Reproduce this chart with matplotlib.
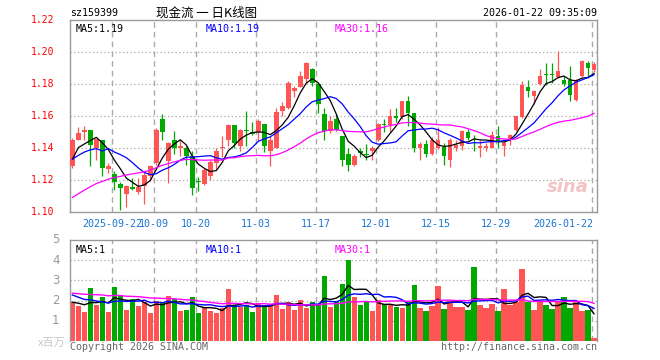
import numpy as np
import matplotlib
matplotlib.use("Agg")
import matplotlib.pyplot as plt

# daily K-line data (2025-09-11 .. 2026-01-22)
opens = [1.1285, 1.1452, 1.1498, 1.1515, 1.1398, 1.1452, 1.1269, 1.1235, 1.1177, 1.1115,
         1.1156, 1.1127, 1.1160, 1.1227, 1.1306, 1.1581, 1.1317, 1.1448, 1.1398, 1.1402,
         1.1348, 1.1196, 1.1177, 1.1227, 1.1306, 1.1398, 1.1450, 1.1546, 1.1415, 1.1515,
         1.1502, 1.1498, 1.1552, 1.1379, 1.1400, 1.1629, 1.1650, 1.1754, 1.1781, 1.1831,
         1.1894, 1.1802, 1.1615, 1.1504, 1.1581, 1.1477, 1.1365, 1.1296, 1.1379, 1.1360,
         1.1379, 1.1448, 1.1552, 1.1546, 1.1602, 1.1592, 1.1696, 1.1617, 1.1398, 1.1427,
         1.1365, 1.1398, 1.1406, 1.1327, 1.1400, 1.1410, 1.1502, 1.1452, 1.1398, 1.1398,
         1.1400, 1.1477, 1.1415, 1.1448, 1.1515, 1.1594, 1.1781, 1.1723, 1.1802, 1.1863,
         1.1865, 1.1844, 1.1827, 1.1827, 1.1702, 1.1848, 1.1931, 1.1885]
highs = [1.1463, 1.1531, 1.1535, 1.1515, 1.1456, 1.1452, 1.1306, 1.1254, 1.1185, 1.1171,
         1.1213, 1.1213, 1.1254, 1.1296, 1.1523, 1.1615, 1.1435, 1.1504, 1.1448, 1.1410,
         1.1379, 1.1217, 1.1275, 1.1327, 1.1400, 1.1477, 1.1552, 1.1546, 1.1519, 1.1629,
         1.1565, 1.1581, 1.1552, 1.1477, 1.1650, 1.1685, 1.1817, 1.1785, 1.1879, 1.1935,
         1.1898, 1.1806, 1.1650, 1.1598, 1.1615, 1.1477, 1.1400, 1.1365, 1.1400, 1.1427,
         1.1410, 1.1556, 1.1581, 1.1644, 1.1650, 1.1696, 1.1727, 1.1617, 1.1435, 1.1452,
         1.1469, 1.1531, 1.1431, 1.1463, 1.1448, 1.1510, 1.1519, 1.1483, 1.1452, 1.1431,
         1.1504, 1.1535, 1.1442, 1.1490, 1.1602, 1.1817, 1.1827, 1.1765, 1.1894, 1.1931,
         1.1931, 1.2004, 1.1852, 1.1915, 1.1831, 1.1948, 1.1942, 1.1935]
lows = [1.1275, 1.1448, 1.1448, 1.1290, 1.1327, 1.1227, 1.1242, 1.1138, 1.1010, 1.1031,
        1.1138, 1.1113, 1.1052, 1.1192, 1.1296, 1.1448, 1.1181, 1.1363, 1.1352, 1.1296,
        1.1108, 1.1129, 1.1171, 1.1202, 1.1269, 1.1342, 1.1410, 1.1400, 1.1379, 1.1410,
        1.1480, 1.1442, 1.1373, 1.1290, 1.1400, 1.1598, 1.1644, 1.1717, 1.1781, 1.1806,
        1.1790, 1.1619, 1.1448, 1.1496, 1.1508, 1.1290, 1.1254, 1.1290, 1.1342, 1.1327,
        1.1325, 1.1442, 1.1498, 1.1498, 1.1560, 1.1581, 1.1540, 1.1373, 1.1325, 1.1342,
        1.1358, 1.1394, 1.1296, 1.1281, 1.1379, 1.1390, 1.1448, 1.1379, 1.1342, 1.1383,
        1.1400, 1.1400, 1.1348, 1.1421, 1.1504, 1.1588, 1.1719, 1.1677, 1.1796, 1.1796,
        1.1806, 1.1838, 1.1785, 1.1692, 1.1692, 1.1844, 1.1838, 1.1873]
closes = [1.1448, 1.1494, 1.1515, 1.1419, 1.1456, 1.1277, 1.1285, 1.1185, 1.1148, 1.1165,
          1.1146, 1.1156, 1.1233, 1.1285, 1.1515, 1.1498, 1.1431, 1.1398, 1.1415, 1.1352,
          1.1148, 1.1185, 1.1265, 1.1315, 1.1381, 1.1406, 1.1546, 1.1431, 1.1515, 1.1504,
          1.1485, 1.1567, 1.1415, 1.1448, 1.1627, 1.1665, 1.1806, 1.1775, 1.1848, 1.1931,
          1.1806, 1.1677, 1.1504, 1.1567, 1.1515, 1.1327, 1.1296, 1.1352, 1.1369, 1.1356,
          1.1400, 1.1552, 1.1546, 1.1602, 1.1588, 1.1692, 1.1617, 1.1398, 1.1427, 1.1365,
          1.1452, 1.1452, 1.1352, 1.1448, 1.1421, 1.1504, 1.1465, 1.1448, 1.1415, 1.1415,
          1.1483, 1.1442, 1.1431, 1.1483, 1.1598, 1.1796, 1.1754, 1.1754, 1.1852, 1.1858,
          1.1858, 1.1879, 1.1802, 1.1733, 1.1827, 1.1942, 1.1900, 1.1927]
# volume, millions
volumes = [1.92, 1.75, 1.42, 2.63, 1.78, 2.20, 1.42, 2.68, 2.25, 1.53,
           2.08, 1.75, 1.92, 1.38, 2.00, 1.92, 2.23, 2.08, 1.48, 1.53,
           2.18, 1.38, 1.67, 1.48, 1.38, 1.62, 2.58, 1.78, 1.70, 1.78,
           1.42, 1.88, 1.78, 1.78, 2.28, 1.58, 1.92, 1.53, 2.03, 1.63,
           1.92, 1.78, 3.23, 1.70, 1.98, 2.83, 4.03, 2.20, 1.78, 1.95,
           1.48, 2.03, 1.82, 1.82, 1.68, 1.63, 1.92, 2.78, 1.63, 1.48,
           1.75, 2.73, 1.58, 1.98, 1.68, 1.68, 1.53, 3.68, 1.78, 1.63,
           1.83, 1.48, 2.58, 1.78, 1.92, 3.58, 1.95, 1.53, 1.95, 1.78,
           1.58, 1.92, 2.18, 1.63, 1.95, 1.48, 1.53, 0.13]

# the 29 sessions before the visible window (estimated, only feed the moving averages)
prev_closes = [1.080, 1.083, 1.079, 1.085, 1.088, 1.086, 1.090, 1.092, 1.089, 1.095,
               1.098, 1.101, 1.099, 1.104, 1.107, 1.110, 1.108, 1.113, 1.116, 1.120,
               1.125, 1.131, 1.128, 1.138, 1.143, 1.113, 1.140, 1.131, 1.136]
prev_volumes = [2.6, 2.3, 2.9, 2.2, 2.5, 2.7, 2.1, 2.4, 2.6, 2.3,
                2.2, 2.8, 2.4, 2.1, 2.5, 2.3, 2.6, 2.2, 2.4, 2.2,
                2.9, 2.5, 2.8, 2.4, 2.6, 2.0, 1.8, 2.1, 1.78]

date_labels = {7: "2025-09-22", 14: "10-09", 21: "10-20", 31: "11-03", 41: "11-17",
               51: "12-01", 61: "12-15", 71: "12-29", 87: "2026-01-22"}

RED = "#ff5555"
GREEN = "#00a800"
GRID = "#aaaaaa"
MONO = "DejaVu Sans Mono"
W, H = 660, 360


def ma(seq, n, count):
    vals = np.convolve(np.asarray(seq, dtype=float), np.ones(n) / n, mode="valid")
    return vals[-count:]


def fx(x):
    return x / W


def fy(y):
    return 1 - y / H


n = len(closes)
x = np.arange(n)
o = np.array(opens)
c = np.array(closes)
hi = np.array(highs)
lo = np.array(lows)
v = np.array(volumes)
up = c >= o
cols = np.where(up, RED, GREEN)

all_c = list(prev_closes) + list(closes)
all_v = list(prev_volumes) + list(volumes)
ma5, ma10, ma30 = ma(all_c, 5, n), ma(all_c, 10, n), ma(all_c, 30, n)
vma5, vma10, vma30 = ma(all_v, 5, n), ma(all_v, 10, n), ma(all_v, 30, n)

fig = plt.figure(figsize=(6.6, 3.6), dpi=100)
fig.patch.set_facecolor("white")

ax = fig.add_axes([fx(70), fy(212), fx(597) - fx(70), fy(20) - fy(212)])
axv = fig.add_axes([fx(70), fy(341), fx(597) - fx(70), fy(240) - fy(341)])

grid_x = [i - 0.35 for i in date_labels]

# ---- price panel
for yv in [1.12, 1.14, 1.16, 1.18, 1.20]:
    ax.axhline(yv, color=GRID, lw=0.9, ls=(0, (1, 2)), zorder=0)
for gx in grid_x:
    ax.axvline(gx, color=GRID, lw=1.0, ls=(0, (4, 3)), zorder=0)

ax.vlines(x, lo, hi, colors=cols, lw=0.9, zorder=2)
body = np.maximum(np.abs(c - o), 0.0004)
ax.bar(x, body, bottom=np.minimum(o, c), width=0.78, color=cols, lw=0, zorder=3)

ax.plot(x, ma5, color="black", lw=0.9, zorder=4)
ax.plot(x, ma10, color="#0000ff", lw=0.9, zorder=4)
ax.plot(x, ma30, color="#ff00ff", lw=0.9, zorder=4)

ax.set_xlim(-0.4, 87.5)
ax.set_ylim(1.10, 1.22)
ax.set_xticks([])
ax.set_yticks([])
for s in ax.spines.values():
    s.set_color("#999999")
    s.set_linewidth(1.0)

for yv in [1.10, 1.12, 1.14, 1.16, 1.18, 1.20, 1.22]:
    ax.text(-0.03, yv, f"{yv:.2f}", transform=ax.get_yaxis_transform(), ha="right",
            va="center", color="red", fontsize=7, family=MONO)

ax.text(0.01, 0.955, f"MA5:{ma5[-1]:.2f}", transform=ax.transAxes, color="black",
        fontsize=7.2, family=MONO, va="center")
ax.text(0.257, 0.955, f"MA10:{ma10[-1]:.2f}", transform=ax.transAxes, color="#0000ff",
        fontsize=7.2, family=MONO, va="center")
ax.text(0.503, 0.955, f"MA30:{ma30[-1]:.2f}", transform=ax.transAxes, color="#ff00ff",
        fontsize=7.2, family=MONO, va="center")

# faint watermark
ax.text(0.985, 0.13, "sina", transform=ax.transAxes, ha="right", va="center",
        color="#f2c4c4", fontsize=13, style="italic", fontweight="bold", zorder=1)

for i, lab in date_labels.items():
    ha = "right" if i == n - 1 else "center"
    xx = i - 0.35 if i != n - 1 else i - 0.2
    ax.text(xx, -0.035, lab, transform=ax.get_xaxis_transform(), ha=ha, va="top",
            color="#1a75d2", fontsize=7.2, family=MONO)

# ---- volume panel
for yv in [1, 2, 3, 4]:
    axv.axhline(yv, color=GRID, lw=0.9, ls=(0, (1, 2)), zorder=0)
for gx in grid_x:
    axv.axvline(gx, color=GRID, lw=1.0, ls=(0, (4, 3)), zorder=0)

axv.bar(x, v, width=0.88, color=cols, lw=0, zorder=2)
axv.plot(x, vma5, color="black", lw=1.0, zorder=3)
axv.plot(x, vma10, color="#0000ff", lw=1.0, zorder=3)
axv.plot(x, vma30, color="#ff00ff", lw=1.0, zorder=3)

axv.set_xlim(-0.4, 87.5)
axv.set_ylim(0, 5)
axv.set_xticks([])
axv.set_yticks([])
for s in axv.spines.values():
    s.set_color("#999999")
    s.set_linewidth(1.0)
axv.spines["bottom"].set_visible(False)

for yv in [1, 2, 3, 4, 5]:
    axv.text(-0.02, yv, str(yv), transform=axv.get_yaxis_transform(), ha="right",
             va="center", color="#999999", fontsize=8.5)

axv.text(0.01, 0.905, f"MA5:{int(vma5[-1])}", transform=axv.transAxes, color="black",
         fontsize=7.2, family=MONO, va="center")
axv.text(0.257, 0.905, f"MA10:{int(vma10[-1])}", transform=axv.transAxes, color="#0000ff",
         fontsize=7.2, family=MONO, va="center")
axv.text(0.503, 0.905, f"MA30:{int(vma30[-1])}", transform=axv.transAxes, color="#ff00ff",
         fontsize=7.2, family=MONO, va="center")

# ---- header and footer
fig.text(fx(70), fy(13), "sz159399", fontsize=7.2, family=MONO, va="center")
fig.text(fx(207), fy(13), "现金流 一 日K线图", fontsize=9,
         family=["Noto Sans CJK SC", "DejaVu Sans"], ha="center", va="center")
fig.text(fx(597), fy(13), "2026-01-22 09:35:09", fontsize=7.2, family=MONO,
         ha="right", va="center")
fig.text(fx(66), fy(343), "x百万", fontsize=8, color="#c8c8c8",
         family=["Noto Sans CJK SC", "DejaVu Sans"], ha="right", va="center")
fig.text(fx(70), fy(347), "Copyright 2026 SINA.COM", fontsize=7.2, family=MONO,
         color="#666666", va="center")
fig.text(fx(597), fy(347), "http://finance.sina.com.cn", fontsize=7.2, family=MONO,
         color="#666666", ha="right", va="center")

fig.savefig("out.png", dpi=100)
